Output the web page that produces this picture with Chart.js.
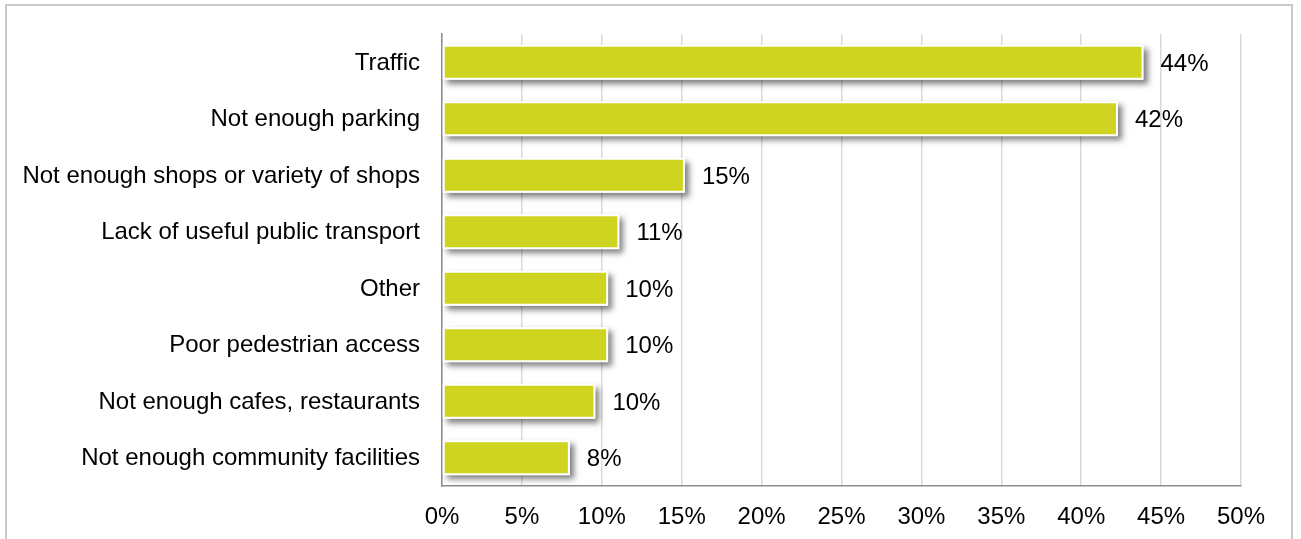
<!DOCTYPE html>
<html>
<head>
<meta charset="utf-8">
<script src="https://cdn.jsdelivr.net/npm/chart.js@4"></script>
<style>
  html, body { margin: 0; padding: 0; background: #fff; }
  #frame {
    position: absolute; left: 5px; top: 4px; width: 1288px; height: 560px;
    border: 2px solid #c9c9c9; box-sizing: border-box;
  }
  #wrap { position: absolute; left: 0; top: 0; width: 1301px; height: 539px; }
</style>
</head>
<body>
<div id="frame"></div>
<div id="wrap"><canvas id="chart" width="1301" height="539"></canvas></div>
<script>
const categories = [
    "Traffic",
    "Not enough parking",
    "Not enough shops or variety of shops",
    "Lack of useful public transport",
    "Other",
    "Poor pedestrian access",
    "Not enough cafes, restaurants",
    "Not enough community facilities"
];
const shares = [43.9, 42.3, 15.2, 11.1, 10.4, 10.4, 9.6, 8.0];
const tickValues = [0, 5, 10, 15, 20, 25, 30, 35, 40, 45, 50];

const font = { family: "'Liberation Sans', Arial, sans-serif", size: 24 };

// soft grey drop shadow behind each bar
const barShadow = {
    id: 'barShadow',
    beforeDatasetsDraw(chart) {
        const ctx = chart.ctx;
        ctx.save();
        ctx.shadowColor = 'rgba(0,0,0,0.5)';
        ctx.shadowBlur = 6;
        ctx.shadowOffsetX = 4;
        ctx.shadowOffsetY = 4;
        ctx.fillStyle = '#fff';
        chart.getDatasetMeta(0).data.forEach(bar => {
            const h = bar.height;
            ctx.fillRect(bar.base, bar.y - h / 2, bar.x - bar.base, h);
        });
        ctx.restore();
    }
};

// percentage written to the right of each bar
const valueLabels = {
    id: 'valueLabels',
    afterDatasetsDraw(chart) {
        const ctx = chart.ctx;
        ctx.save();
        ctx.font = `${font.size}px ${font.family}`;
        ctx.fillStyle = '#000';
        ctx.textBaseline = 'middle';
        ctx.textAlign = 'left';
        chart.getDatasetMeta(0).data.forEach((bar, i) => {
            ctx.fillText(Math.round(shares[i]) + '%', bar.x + 17, bar.y + 2);
        });
        ctx.restore();
    }
};

new Chart(document.getElementById('chart'), {
    type: 'bar',
    data: {
        labels: categories,
        datasets: [{
            data: shares,
            backgroundColor: '#cfd421',
            borderColor: '#ffffff',
            borderWidth: 2,
            borderSkipped: false,
            barPercentage: 0.62,
            categoryPercentage: 1
        }]
    },
    options: {
        indexAxis: 'y',
        responsive: false,
        animation: false,
        events: [],
        layout: { padding: { left: 0, right: 60, top: 34, bottom: 0 } },
        plugins: { legend: { display: false }, tooltip: { enabled: false } },
        scales: {
            x: {
                min: 0,
                max: 50,
                afterBuildTicks: scale => { scale.ticks = tickValues.map(v => ({ value: v })); },
                afterFit: scale => { scale.height = 53; },
                grid: { color: '#d9d9d9', lineWidth: 1.5, drawTicks: false },
                border: { display: true, color: '#8c8c8c', width: 1.5 },
                ticks: { font, color: '#000', padding: 17, callback: v => v + '%' }
            },
            y: {
                afterFit: scale => { scale.width = 442; },
                grid: { display: false },
                border: { display: true, color: '#8c8c8c', width: 1.5 },
                ticks: { font, color: '#000', padding: 14, labelOffset: 1 }
            }
        }
    },
    plugins: [barShadow, valueLabels]
});
</script>
</body>
</html>
